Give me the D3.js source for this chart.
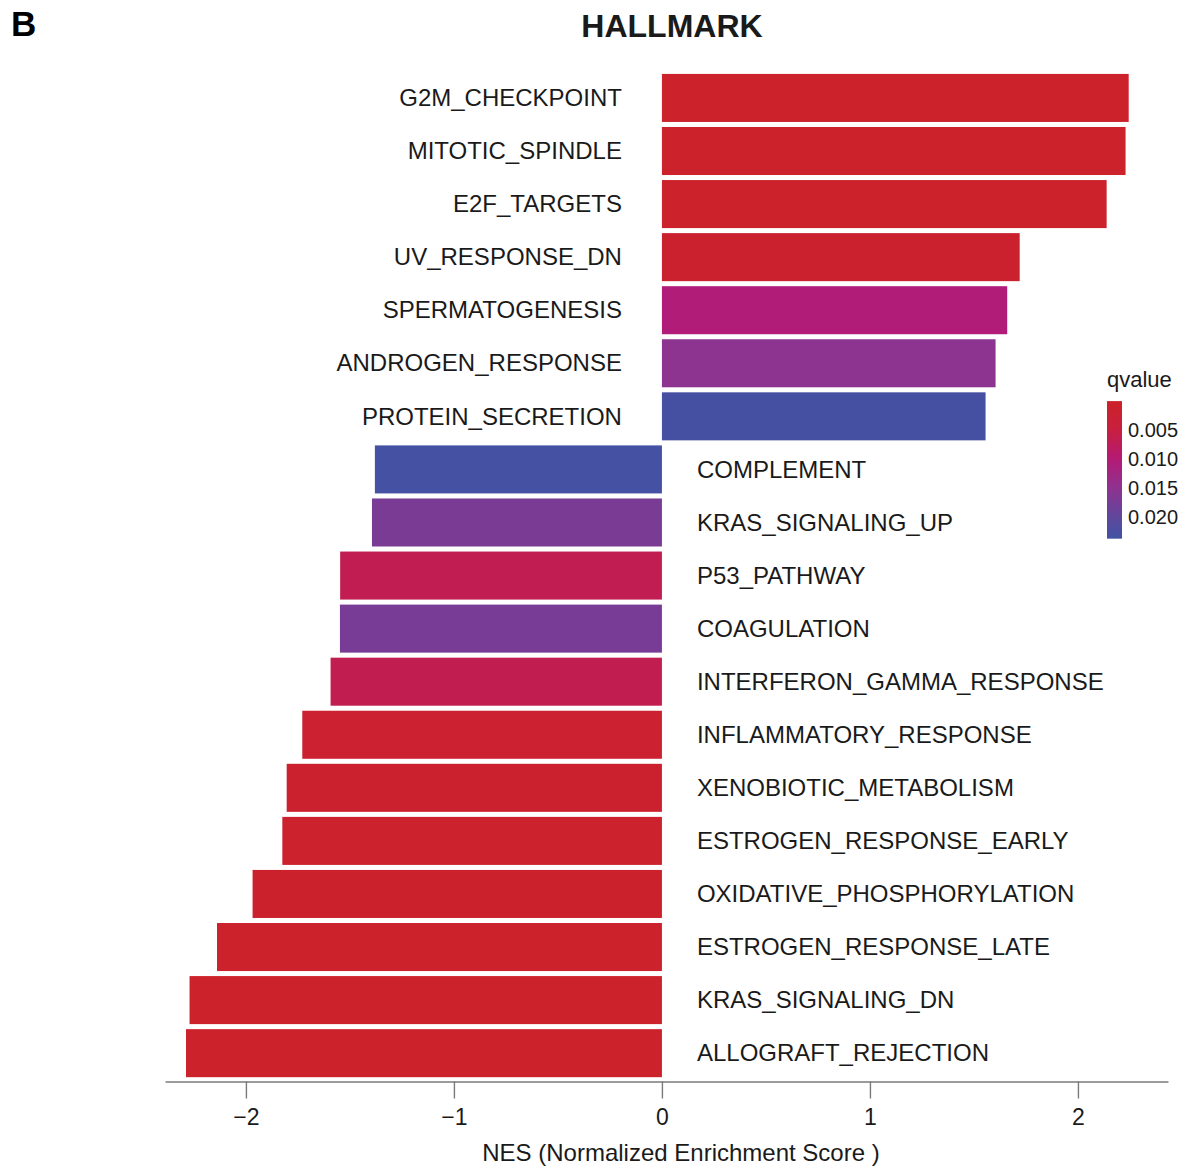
<!DOCTYPE html>
<html>
<head>
<meta charset="utf-8">
<script src="https://cdn.jsdelivr.net/npm/d3@7/dist/d3.min.js"></script>
<style>
  html, body { margin: 0; padding: 0; background: #ffffff; }
  svg { display: block; font-family: "Liberation Sans", Arial, Helvetica, sans-serif; }
</style>
</head>
<body>
<svg id="chart" width="1184" height="1168"></svg>
<script>
// GSEA hallmark pathways, top (most positive NES) to bottom
const pathways = [
  "G2M_CHECKPOINT", "MITOTIC_SPINDLE", "E2F_TARGETS", "UV_RESPONSE_DN",
  "SPERMATOGENESIS", "ANDROGEN_RESPONSE", "PROTEIN_SECRETION",
  "COMPLEMENT", "KRAS_SIGNALING_UP", "P53_PATHWAY", "COAGULATION",
  "INTERFERON_GAMMA_RESPONSE", "INFLAMMATORY_RESPONSE", "XENOBIOTIC_METABOLISM",
  "ESTROGEN_RESPONSE_EARLY", "OXIDATIVE_PHOSPHORYLATION", "ESTROGEN_RESPONSE_LATE",
  "KRAS_SIGNALING_DN", "ALLOGRAFT_REJECTION"
];
// Normalized enrichment scores
const nes = [
  2.244, 2.229, 2.138, 1.720, 1.660, 1.604, 1.556,
  -1.380, -1.394, -1.547, -1.548, -1.593, -1.729, -1.804,
  -1.825, -1.968, -2.139, -2.271, -2.288
];
// FDR q-values
const qvalues = [
  0.0004, 0.0006, 0.0004, 0.0012, 0.0105, 0.0152, 0.0232,
  0.0233, 0.0172, 0.0068, 0.0173, 0.0066, 0.0015, 0.0010,
  0.0008, 0.0009, 0.0005, 0.0006, 0.0005
];
const xTicks = [-2, -1, 0, 1, 2];
const legendTicks = [0.005, 0.010, 0.015, 0.020];
const qRange = [0, 0.0238];

const rows = pathways.map((p, i) => ({ name: p, nes: nes[i], q: qvalues[i] }));

const svg = d3.select("#chart");
const font = '"Liberation Sans", Arial, Helvetica, sans-serif';

// scales
const x = d3.scaleLinear().domain([-2.389, 2.433]).range([165, 1168]);
const y = d3.scaleBand().domain(pathways).range([71.4, 1079.7])
  .paddingInner(0.095).paddingOuter(0.0475);
const color = d3.scaleLinear()
  .domain([0, 0.005, 0.010, 0.015, 0.020, 0.0238])
  .range(["#cc2229", "#c81f40", "#b41a74", "#8f3290", "#60479c", "#4152a3"])
  .clamp(true);

// panel label and title
svg.append("text").attr("x", 11).attr("y", 36)
  .attr("font-size", 35).attr("font-weight", "bold").attr("fill", "#000")
  .text("B");
svg.append("text").attr("x", 672).attr("y", 37).attr("text-anchor", "middle")
  .attr("font-size", 32).attr("font-weight", "bold").attr("fill", "#1a1a1a")
  .text("HALLMARK");

// bars
svg.append("g").selectAll("rect").data(rows).join("rect")
  .attr("x", d => Math.min(x(0), x(d.nes)))
  .attr("y", d => y(d.name))
  .attr("width", d => Math.abs(x(d.nes) - x(0)))
  .attr("height", y.bandwidth())
  .attr("fill", d => color(d.q));

// pathway labels: positive on the left of zero, negative on the right
svg.append("g").selectAll("text").data(rows).join("text")
  .attr("x", d => d.nes > 0 ? x(0) - 40 : x(0) + 35)
  .attr("y", d => y(d.name) + y.bandwidth() / 2)
  .attr("dy", "0.34em")
  .attr("text-anchor", d => d.nes > 0 ? "end" : "start")
  .attr("font-size", 24).attr("fill", "#1a1a1a")
  .text(d => d.name);

// x axis
const axisY = 1081.5;
const gx = svg.append("g").attr("transform", `translate(0,${axisY})`)
  .call(d3.axisBottom(x).tickValues(xTicks).tickFormat(d3.format("d"))
    .tickSize(17).tickPadding(10).tickSizeOuter(0));
gx.select(".domain").attr("stroke", "#7a7a7a").attr("stroke-width", 1.6);
gx.selectAll(".tick line").attr("stroke", "#7a7a7a").attr("stroke-width", 1.4);
gx.selectAll(".tick text").attr("font-size", 23).attr("font-family", font).attr("fill", "#1a1a1a");

svg.append("text").attr("x", 681).attr("y", 1161).attr("text-anchor", "middle")
  .attr("font-size", 24).attr("fill", "#1a1a1a")
  .text("NES (Normalized Enrichment Score )");

// colour bar legend
const ly = d3.scaleLinear().domain([0.005, 0.020]).range([430, 516.7]);
const defs = svg.append("defs");
const grad = defs.append("linearGradient").attr("id", "qgrad")
  .attr("x1", 0).attr("x2", 0).attr("y1", 0).attr("y2", 1);
d3.range(0, 1.0001, 0.05).forEach(t => {
  const q = qRange[0] + t * (qRange[1] - qRange[0]);
  grad.append("stop").attr("offset", t).attr("stop-color", color(q));
});
svg.append("text").attr("x", 1107).attr("y", 387)
  .attr("font-size", 22).attr("fill", "#1a1a1a").text("qvalue");
svg.append("rect").attr("x", 1107).attr("y", ly(qRange[0]))
  .attr("width", 15).attr("height", ly(qRange[1]) - ly(qRange[0]))
  .attr("fill", "url(#qgrad)");
svg.append("g").selectAll("text").data(legendTicks).join("text")
  .attr("x", 1128).attr("y", d => ly(d)).attr("dy", "0.36em")
  .attr("font-size", 20).attr("fill", "#1a1a1a")
  .text(d => d3.format(".3f")(d));
</script>
</body>
</html>
